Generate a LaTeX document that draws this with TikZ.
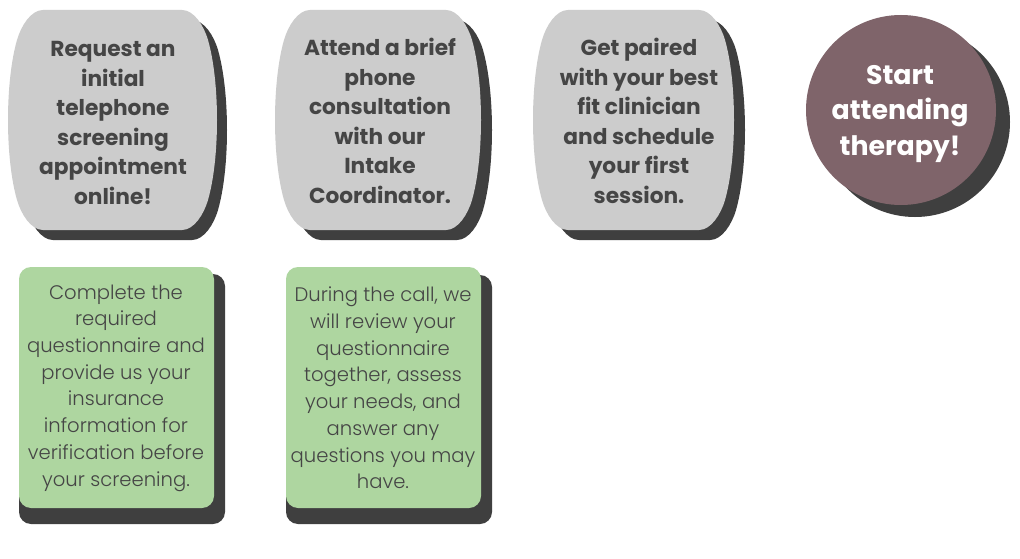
\documentclass[tikz,border=0pt]{standalone}
\usepackage{fontspec}
\setmainfont{Poppins}
\newfontfamily\lightfont{Poppins Light}
\definecolor{shapegray}{HTML}{CCCCCC}
\definecolor{shadowgray}{HTML}{3F3F3F}
\definecolor{txtgray}{HTML}{454545}
\definecolor{mauve}{HTML}{7F646A}
\definecolor{softgreen}{HTML}{AED6A0}
\newcommand\mybarrel[4]{({#1+36},#3) -- ({#2-36},#3) .. controls ({#2-24},#3) and ({#2-14},{#3+16}) .. ({#2-10},{#3+30}) .. controls ({#2+2},{#3+72}) and ({#2+2},{#4-72}) .. ({#2-10},{#4-30}) .. controls ({#2-14},{#4-16}) and ({#2-24},#4) .. ({#2-36},#4) -- ({#1+36},#4) .. controls ({#1+24},#4) and ({#1+14},{#4-16}) .. ({#1+10},{#4-30}) .. controls ({#1-2},{#4-72}) and ({#1-2},{#3+72}) .. ({#1+10},{#3+30}) .. controls ({#1+14},{#3+16}) and ({#1+24},#3) .. cycle}
\tikzset{
  headtxt/.style={align=center, text=txtgray, inner sep=0pt, font=\bfseries\fontsize{21.7}{29.5}\selectfont},
  bodytxt/.style={align=center, text=txtgray, inner sep=0pt, font=\lightfont\fontsize{19.6}{26.7}\selectfont},
  circtxt/.style={align=center, text=white, inner sep=0pt, font=\bfseries\fontsize{26.8}{35.5}\selectfont},
  shadowfill/.style={fill=shadowgray, draw=none},
  grayfill/.style={fill=shapegray, draw=none},
  greenbox/.style={fill=softgreen, draw=none, rounded corners=12pt},
  shadowbox/.style={fill=shadowgray, draw=none, rounded corners=12pt},
}
\begin{document}
\begin{tikzpicture}[x=1pt,y=-1pt]
\useasboundingbox[fill=white] (0,0) rectangle (1020,559);
% gray barrel shapes with shadows
\fill[shadowfill] [shift={(10,10)}] \mybarrel{7}{218}{10}{230};
\fill[grayfill] \mybarrel{7}{218}{10}{230};
\fill[shadowfill] [shift={(11,10)}] \mybarrel{274}{482}{10}{230};
\fill[grayfill] \mybarrel{274}{482}{10}{230};
\fill[shadowfill] [shift={(11,10)}] \mybarrel{532}{735}{10}{230};
\fill[grayfill] \mybarrel{532}{735}{10}{230};
% circle
\fill[shadowfill] (915,122) circle (95);
\fill[fill=mauve] (901,110) circle (95);
% green boxes
\fill[shadowbox] (19,274) rectangle (225,524);
\fill[greenbox] (19,267) rectangle (214,508);
\fill[shadowbox] (286,275) rectangle (492,524);
\fill[greenbox] (286,267) rectangle (481,508);
% texts
\node[headtxt] (s1) at (113,123) {Request an\\initial\\telephone\\screening\\appointment\\online!};
\node[headtxt] (s2) at (380,121) {Attend a brief\\phone\\consultation\\with our\\Intake\\Coordinator.};
\node[headtxt] (s3) at (639,121) {Get paired\\with your best\\fit clinician\\and schedule\\your first\\session.};
\node[circtxt] (s4) at (900,114) {Start\\attending\\therapy!};
\node[bodytxt] (b1) at (116,388) {Complete the\\required\\questionnaire and\\provide us your\\insurance\\information for\\verification before\\your screening.};
\node[bodytxt] (b2) at (383,388) {During the call, we\\will review your\\questionnaire\\together, assess\\your needs, and\\answer any\\questions you may\\have.};
\end{tikzpicture}
\end{document}
